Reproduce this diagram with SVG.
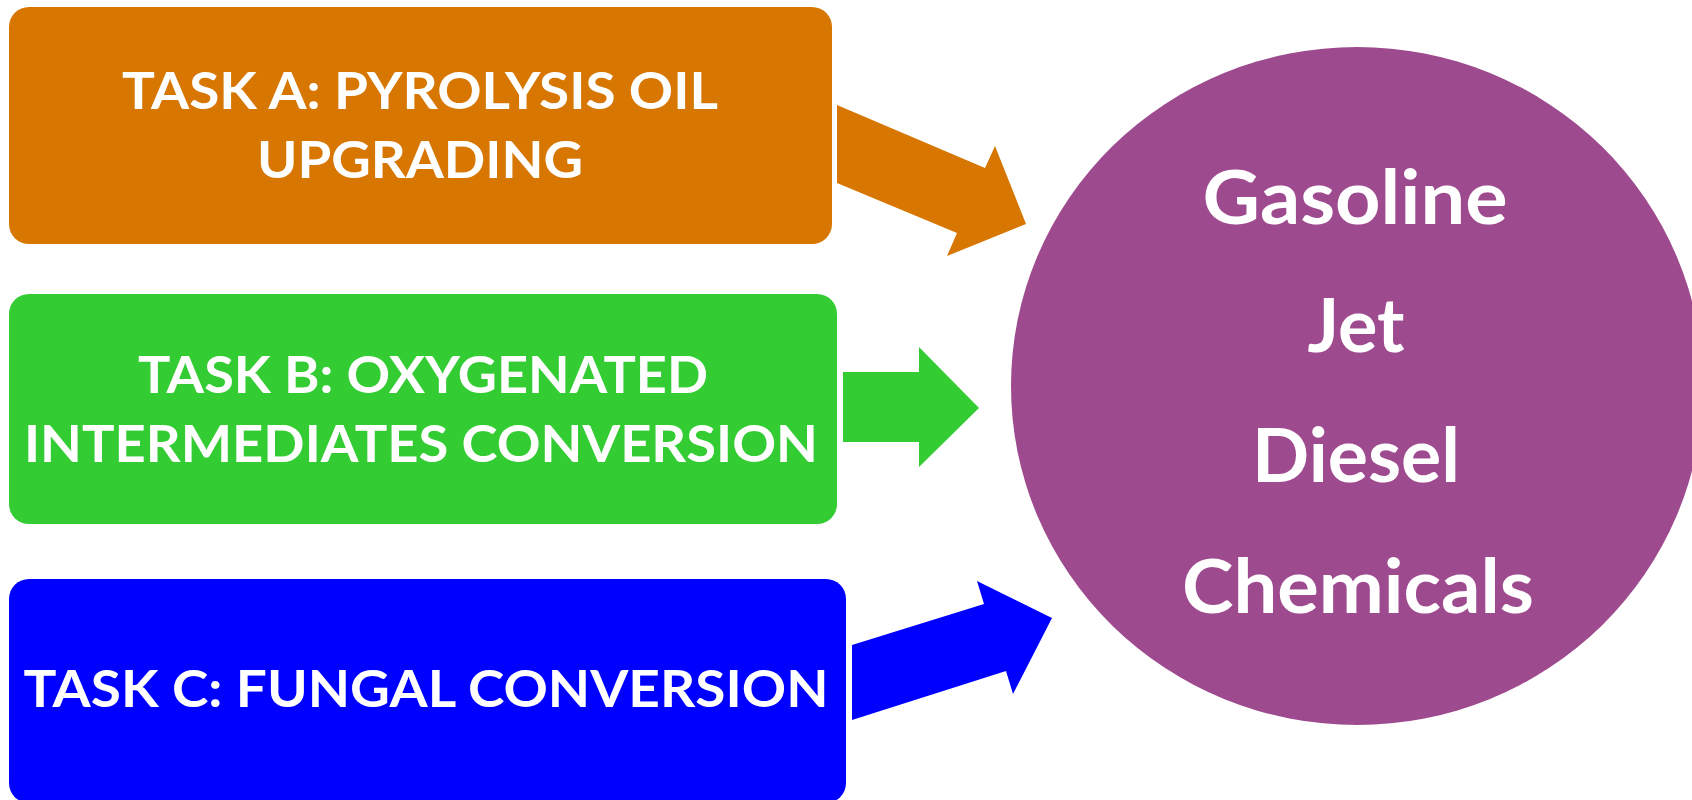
<svg xmlns="http://www.w3.org/2000/svg" width="1692" height="800" viewBox="0 0 1692 800">
<style>
.t{font-family:Lato,"Open Sans","Liberation Sans",sans-serif;font-weight:bold;fill:#ffffff;text-anchor:middle}
.task{font-size:52px}
.prod{font-size:75px}
</style>
<rect width="1692" height="800" fill="#ffffff"/>
<g id="connectors">
<polygon id="arrowA" points="837,105 985,168 995,146 1026,224 947,256 957,233 837,183" fill="#D77600"/>
<polygon id="arrowB" points="843,372 919,372 919,347 979,408 919,467 919,442 843,442" fill="#33CC33"/>
<polygon id="arrowC" points="852,645 984,604 977,581 1052,618 1013,694 1006,671 852,720" fill="#0000FF"/>
</g>
<g id="taskA">
<rect x="9" y="7" width="823" height="237" rx="20" fill="#D77600"/>
<text class="t task" x="420" y="109" textLength="596" lengthAdjust="spacingAndGlyphs">TASK A: PYROLYSIS OIL</text>
<text class="t task" x="420" y="178" textLength="326" lengthAdjust="spacingAndGlyphs">UPGRADING</text>
</g>
<g id="taskB">
<rect x="9" y="294" width="828" height="230" rx="20" fill="#33CC33"/>
<text class="t task" x="423" y="393" textLength="570" lengthAdjust="spacingAndGlyphs">TASK B: OXYGENATED</text>
<text class="t task" x="421" y="462" textLength="794" lengthAdjust="spacingAndGlyphs">INTERMEDIATES CONVERSION</text>
</g>
<g id="taskC">
<rect x="9" y="579" width="837" height="224" rx="20" fill="#0000FF"/>
<text class="t task" x="426" y="707" textLength="805" lengthAdjust="spacingAndGlyphs">TASK C: FUNGAL CONVERSION</text>
</g>
<g id="products">
<ellipse cx="1357" cy="386" rx="346" ry="339" fill="#9E4A8E"/>
<text class="t prod" x="1355" y="224" textLength="305" lengthAdjust="spacingAndGlyphs">Gasoline</text>
<text class="t prod" x="1356" y="352" textLength="97" lengthAdjust="spacingAndGlyphs">Jet</text>
<text class="t prod" x="1356" y="482" textLength="208" lengthAdjust="spacingAndGlyphs">Diesel</text>
<text class="t prod" x="1358" y="613" textLength="352" lengthAdjust="spacingAndGlyphs">Chemicals</text>
</g>
</svg>
